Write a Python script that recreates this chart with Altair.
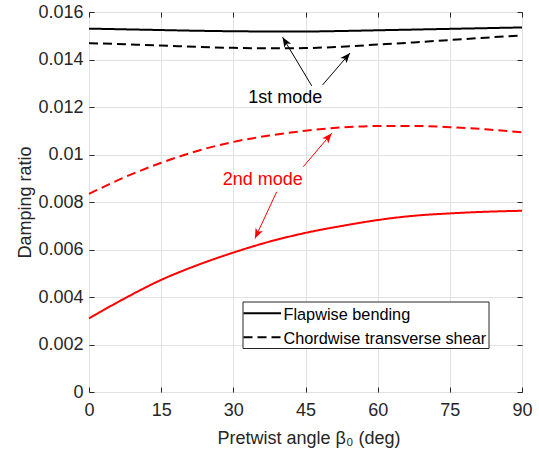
import math
import altair as alt
import pandas as pd

# Pretwist angle samples (deg)
angle = [0, 7.5, 15, 22.5, 30, 37.5, 45, 52.5, 60, 67.5, 75, 82.5, 90]

# Damping ratio per mode and motion type
flap_1st = [0.01530, 0.01527, 0.01524, 0.01521, 0.01519, 0.01518, 0.01518,
            0.01520, 0.01523, 0.01526, 0.01529, 0.01532, 0.01535]
chord_1st = [0.01469, 0.01464, 0.01459, 0.01453, 0.01449, 0.01447, 0.01448,
             0.01454, 0.01463, 0.01472, 0.01482, 0.01492, 0.01501]
flap_2nd = [0.00310, 0.00395, 0.00472, 0.00534, 0.00587, 0.00633, 0.00670,
            0.00699, 0.00724, 0.00742, 0.00752, 0.00759, 0.00763]
chord_2nd = [0.00834, 0.00905, 0.00965, 0.01015, 0.01053, 0.01080, 0.01100,
             0.01114, 0.01120, 0.01120, 0.01115, 0.01106, 0.01093]

x_ticks = [0, 15, 30, 45, 60, 75, 90]
y_ticks = [0, 0.002, 0.004, 0.006, 0.008, 0.01, 0.012, 0.014, 0.016]

modes = ["1st mode", "2nd mode"]
mode_colors = ["#000000", "#ff0000"]
motions = ["Flapwise bending", "Chordwise transverse shear"]
motion_dash = [[1, 0], [9, 5]]

# Annotation arrows: tail (x0, y0) -> head (x1, y1)
arrow_x0 = [46.3, 48.55, 44.54, 39.01]
arrow_y0 = [0.01289, 0.01293, 0.009485, 0.00843]
arrow_x1 = [40.24, 54.25, 50.45, 34.50]
arrow_y1 = [0.01494, 0.01427, 0.010895, 0.006464]
arrow_color = ["#000000", "#000000", "#ff0000", "#ff0000"]

note_text = ["1st mode", "2nd mode"]
note_x = [40.8, 36.1]
note_y = [0.01238, 0.00892]
note_color = ["#000000", "#ff0000"]

W, H = 433, 380
X_MAX, Y_MAX = 90, 0.016
FONT = "Liberation Sans"
AXIS_GRAY = "#262626"
GRID_GRAY = "#e2e2e2"

rows = []
for mode, motion, vals in [
    ("1st mode", "Flapwise bending", flap_1st),
    ("1st mode", "Chordwise transverse shear", chord_1st),
    ("2nd mode", "Flapwise bending", flap_2nd),
    ("2nd mode", "Chordwise transverse shear", chord_2nd),
]:
    for a, v in zip(angle, vals):
        rows.append({"angle": a, "damping": v, "mode": mode, "motion": motion})
df = pd.DataFrame(rows)
one_row = pd.DataFrame({"k": [0]})

arrows = pd.DataFrame({"x0": arrow_x0, "y0": arrow_y0, "x1": arrow_x1,
                       "y1": arrow_y1, "color": arrow_color})
# heading of each arrow in screen space (clockwise from up)
dx = (arrows.x1 - arrows.x0) * W / X_MAX
dy = -(arrows.y1 - arrows.y0) * H / Y_MAX
arrows["rot"] = [math.degrees(math.atan2(a, -b)) % 360 for a, b in zip(dx, dy)]

notes = pd.DataFrame({"text": note_text, "x": note_x, "y": note_y, "color": note_color})

x_scale = alt.Scale(domain=[0, X_MAX], nice=False, zero=False)
y_scale = alt.Scale(domain=[0, Y_MAX], nice=False, zero=False)

x_main = alt.Axis(values=x_ticks, title="Pretwist angle β₀ (deg)", orient="bottom",
                  labelFontSize=18, titleFontSize=18, titleFontWeight="normal",
                  labelColor=AXIS_GRAY, titleColor=AXIS_GRAY, tickSize=0,
                  labelPadding=9, labelFlush=False, domain=False, grid=True,
                  gridColor=GRID_GRAY, titleX=W / 2 + 3, titleY=51,
                  titleBaseline="alphabetic", titleAlign="center")
y_main = alt.Axis(values=y_ticks, format="~g", title="Damping ratio", orient="left",
                  labelFontSize=18, titleFontSize=18, titleFontWeight="normal",
                  labelColor=AXIS_GRAY, titleColor=AXIS_GRAY, tickSize=0,
                  labelPadding=6, labelFlush=False, domain=False, grid=True,
                  gridColor=GRID_GRAY, titleX=-59, titleY=H / 2,
                  titleBaseline="alphabetic", titleAlign="center", titleAngle=270)

lines = alt.Chart(df).mark_line(strokeWidth=2, interpolate="monotone").encode(
    x=alt.X("angle:Q", scale=x_scale, axis=x_main),
    y=alt.Y("damping:Q", scale=y_scale, axis=y_main),
    color=alt.Color("mode:N", scale=alt.Scale(domain=modes, range=mode_colors), legend=None),
    strokeDash=alt.StrokeDash("motion:N", scale=alt.Scale(domain=motions, range=motion_dash),
                              legend=None),
)


def inward_ticks(x_orient, y_orient):
    def ax(orient, vals):
        return alt.Axis(orient=orient, values=vals, labels=False, domain=False,
                        grid=False, tickSize=5, offset=-5, title=None,
                        tickColor=AXIS_GRAY, tickWidth=1)
    return alt.Chart(df).mark_point(opacity=0).encode(
        x=alt.X("angle:Q", scale=x_scale, axis=ax(x_orient, x_ticks)),
        y=alt.Y("damping:Q", scale=y_scale, axis=ax(y_orient, y_ticks)),
    )


ticks_bl = inward_ticks("bottom", "left")
ticks_tr = inward_ticks("top", "right")

arrow_lines = alt.Chart(arrows).mark_rule(strokeWidth=1).encode(
    x=alt.X("x0:Q", scale=x_scale, axis=None),
    y=alt.Y("y0:Q", scale=y_scale, axis=None),
    x2="x1:Q",
    y2="y1:Q",
    color=alt.Color("color:N", scale=None),
)
arrow_heads = alt.Chart(arrows).mark_point(
    shape="M0,0L0.8,2L0,1.5L-0.8,2Z", filled=True, size=100, opacity=1, strokeWidth=0
).encode(
    x=alt.X("x1:Q", scale=x_scale, axis=None),
    y=alt.Y("y1:Q", scale=y_scale, axis=None),
    angle=alt.Angle("rot:Q", scale=None),
    color=alt.Color("color:N", scale=None),
)

note_marks = alt.Chart(notes).mark_text(fontSize=18, font=FONT, align="center",
                                        baseline="middle").encode(
    x=alt.X("x:Q", scale=x_scale, axis=None),
    y=alt.Y("y:Q", scale=y_scale, axis=None),
    text="text:N",
    color=alt.Color("color:N", scale=None),
)

# Legend box with line samples
legend_layers = [
    alt.Chart(one_row).mark_rect(fill="white", stroke=AXIS_GRAY, strokeWidth=1).encode(
        x=alt.value(154), x2=alt.value(400), y=alt.value(290), y2=alt.value(336.5)
    )
]
for i, (label, dash) in enumerate(zip(motions, motion_dash)):
    line_y = 301.3 + 24 * i
    legend_layers.append(
        alt.Chart(one_row).mark_rule(color="black", strokeWidth=2, strokeDash=dash).encode(
            x=alt.value(154.5), x2=alt.value(192), y=alt.value(line_y)
        )
    )
    legend_layers.append(
        alt.Chart(one_row).mark_text(text=label, fontSize=16.3, font=FONT, align="left",
                                     baseline="middle", color="black").encode(
            x=alt.value(194.5), y=alt.value(line_y + 1.5)
        )
    )

chart = alt.layer(
    lines, arrow_lines, arrow_heads, note_marks, *legend_layers, ticks_bl, ticks_tr
).resolve_axis(x="independent", y="independent").properties(
    width=W, height=H, autosize="none",
    padding={"left": 89, "top": 12, "right": 17, "bottom": 63},
).configure(font=FONT).configure_view(stroke=AXIS_GRAY, strokeWidth=1)

chart.save("out.html", embed_options={"renderer": "svg", "actions": False})
